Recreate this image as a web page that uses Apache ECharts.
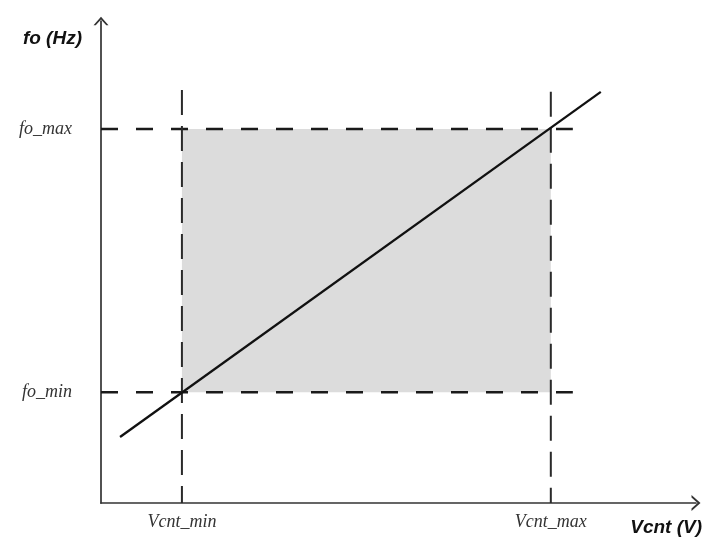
<!DOCTYPE html>
<html>
<head>
<meta charset="utf-8">
<script src="https://cdn.jsdelivr.net/npm/echarts@6/dist/echarts.min.js"></script>
<style>
  html, body { margin: 0; padding: 0; background: #ffffff; }
  #chart { width: 705px; height: 548px; }
</style>
</head>
<body>
<div id="chart"></div>
<script>
// Control voltage / output frequency characteristic of a VCO (arbitrary units)
const vcntRange = [0, 10];
const foRange = [0, 10];

const vcntMin = 1.36;
const vcntMax = 7.56;
const foMin = 2.30;
const foMax = 7.76;

// Transfer line endpoints [Vcnt, fo]
const transferLine = [[0.32, 1.37], [8.40, 8.53]];

// Extent of the guide lines
const guideXEnd = 7.93;
const guideMinTop = 8.57;
const guideMaxTop = 8.53;

// Tick labels
const xTickValues = [vcntMin, vcntMax];
const xTickLabels = ['Vcnt_min', 'Vcnt_max'];
const yTickValues = [foMin, foMax];
const yTickLabels = ['fo_min', 'fo_max'];

// open chevron arrow head (tip at top, rotated along the axis by ECharts)
const chevron = 'path://M0,9 L8,0 L16,9 L13.6,9 L8,2.9 L2.4,9 Z';
const serif = "'Liberation Serif', 'DejaVu Serif', serif";
const sans = "'Liberation Sans', Arial, sans-serif";

function labelFor(values, labels) {
  return function (v) {
    for (let i = 0; i < values.length; i++) {
      if (Math.abs(values[i] - v) < 1e-6) return labels[i];
    }
    return '';
  };
}

const hDash = { color: '#1a1a1a', width: 2.5, type: [17, 18] };
const vDash = { color: '#2a2a2a', width: 2, type: [25, 11] };

const chart = echarts.init(document.getElementById('chart'), null, { renderer: 'canvas' });

chart.setOption({
  animation: false,
  backgroundColor: '#ffffff',
  grid: { left: 101, right: 9, top: 21, bottom: 45, containLabel: false },
  xAxis: {
    type: 'value',
    min: vcntRange[0],
    max: vcntRange[1],
    name: 'Vcnt (V)',
    nameLocation: 'end',
    nameGap: 6,
    nameTextStyle: {
      fontFamily: sans, fontStyle: 'italic', fontWeight: 'bold', fontSize: 19,
      color: '#111', align: 'right', verticalAlign: 'top', padding: [15, 0, 0, 0]
    },
    axisLine: {
      show: true, onZero: false,
      symbol: ['none', chevron], symbolSize: [16, 9],
      lineStyle: { color: '#333333', width: 1.7 }
    },
    axisTick: { show: false },
    splitLine: { show: false },
    axisLabel: {
      customValues: xTickValues,
      formatter: labelFor(xTickValues, xTickLabels),
      margin: 10,
      fontFamily: serif, fontStyle: 'italic', fontSize: 18, color: '#333'
    }
  },
  yAxis: {
    type: 'value',
    min: foRange[0],
    max: foRange[1],
    name: 'fo (Hz)',
    nameLocation: 'end',
    nameGap: -18,
    nameTextStyle: {
      fontFamily: sans, fontStyle: 'italic', fontWeight: 'bold', fontSize: 19,
      color: '#111', align: 'right', verticalAlign: 'middle', padding: [0, 19, 0, 0]
    },
    axisLine: {
      show: true, onZero: false,
      symbol: ['none', chevron], symbolSize: [15, 8.5],
      lineStyle: { color: '#333333', width: 1.7 }
    },
    axisTick: { show: false },
    splitLine: { show: false },
    axisLabel: {
      customValues: yTickValues,
      formatter: labelFor(yTickValues, yTickLabels),
      margin: 29,
      padding: [0, 0, 10, 0],
      fontFamily: serif, fontStyle: 'italic', fontSize: 18, color: '#333'
    }
  },
  series: [
    {
      // shaded operating region
      type: 'line',
      data: [],
      z: 1,
      silent: true,
      markArea: {
        silent: true,
        itemStyle: { color: '#dcdcdc' },
        data: [[{ coord: [vcntMin, foMin] }, { coord: [vcntMax, foMax] }]]
      }
    },
    {
      type: 'line', z: 3, showSymbol: false, silent: true,
      lineStyle: hDash,
      data: [[0, foMax], [guideXEnd, foMax]]
    },
    {
      type: 'line', z: 3, showSymbol: false, silent: true,
      lineStyle: hDash,
      data: [[0, foMin], [guideXEnd, foMin]]
    },
    {
      type: 'line', z: 3, showSymbol: false, silent: true,
      lineStyle: vDash,
      data: [[vcntMin, guideMinTop], [vcntMin, 0]]
    },
    {
      type: 'line', z: 3, showSymbol: false, silent: true,
      lineStyle: vDash,
      data: [[vcntMax, guideMaxTop], [vcntMax, 0]]
    },
    {
      type: 'line', z: 4, showSymbol: false, silent: true,
      lineStyle: { color: '#111', width: 2.3 },
      data: transferLine
    }
  ]
});
</script>
</body>
</html>
